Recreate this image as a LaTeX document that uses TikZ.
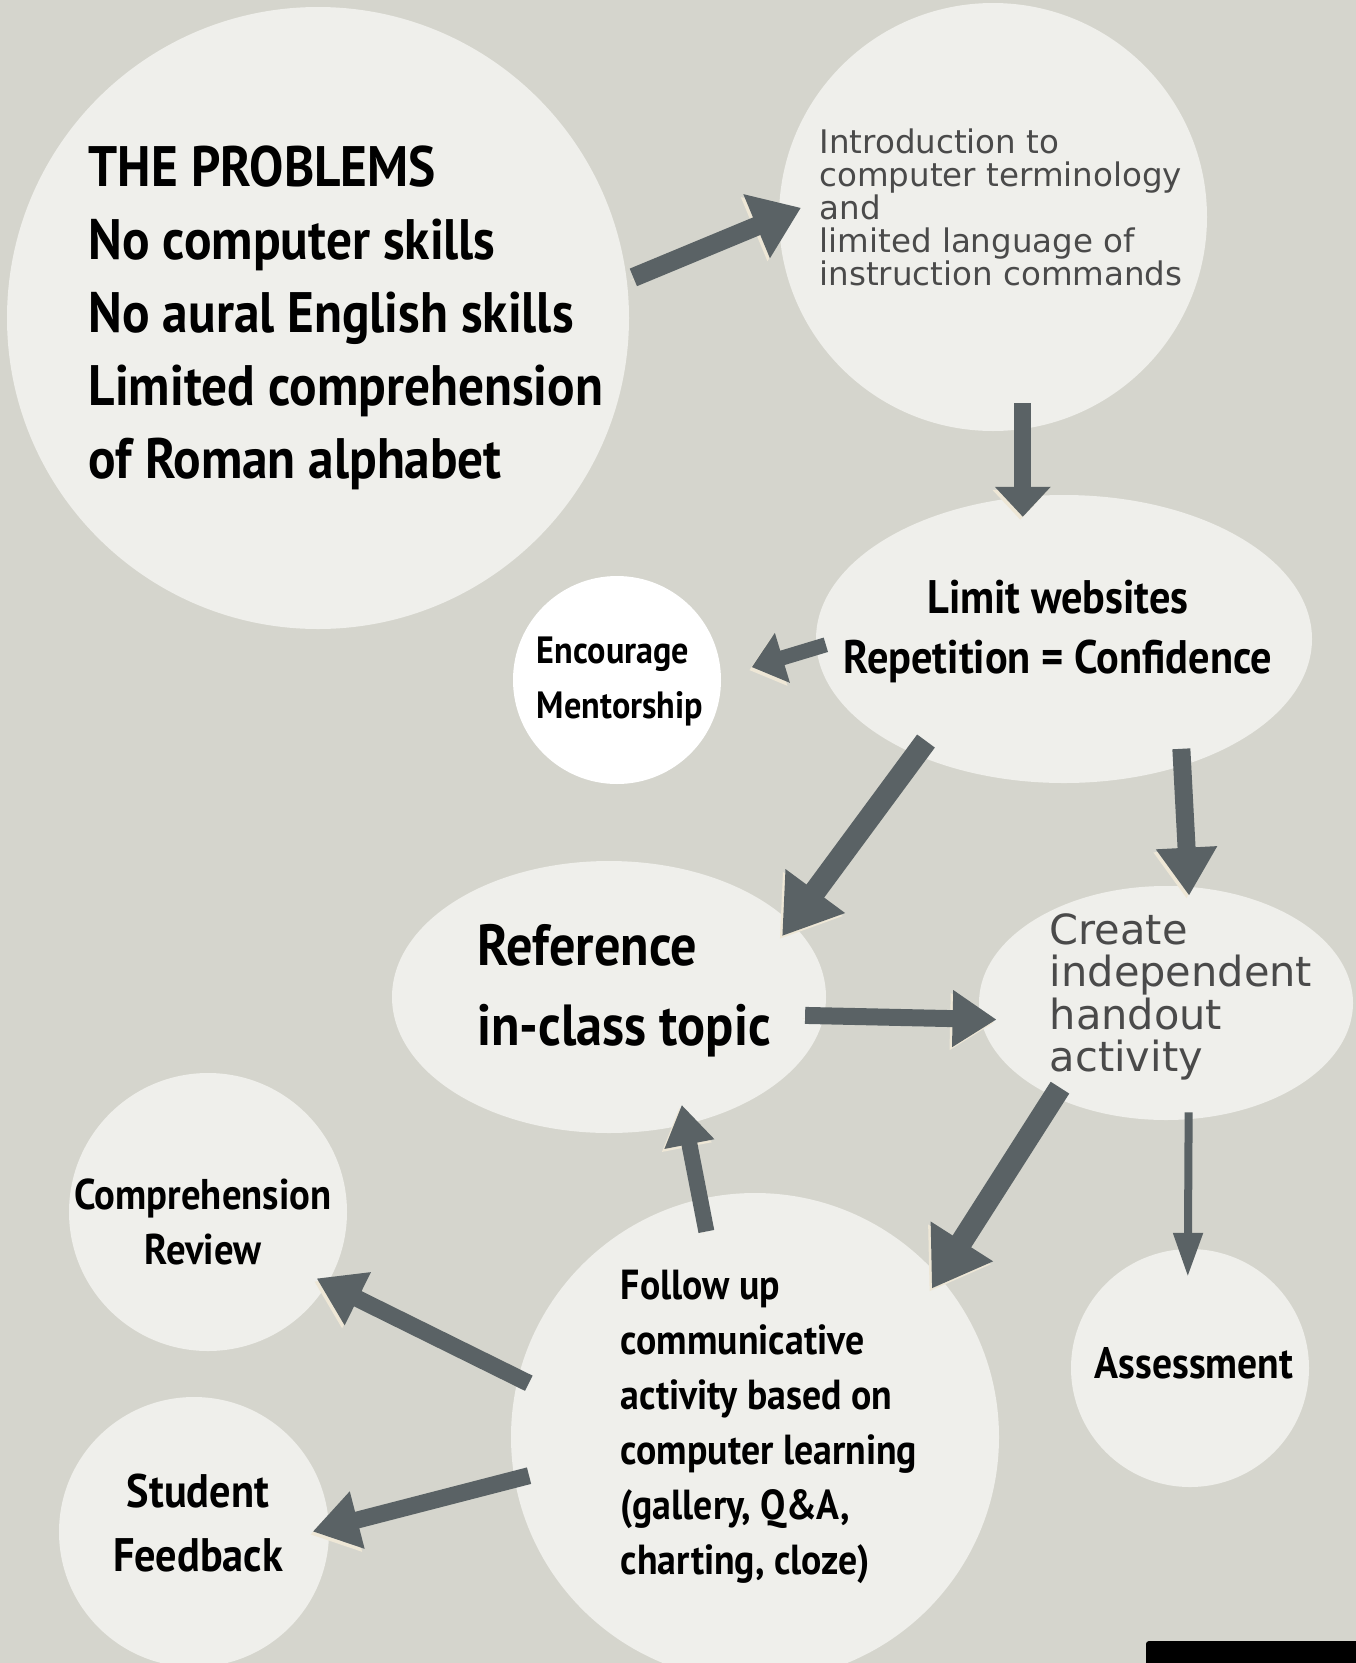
\documentclass[tikz,border=0pt]{standalone}
\usepackage{fontspec}
\usepackage{tikz}
\newfontfamily\headfont[FakeStretch=0.9]{PT Sans}
\newfontfamily\softfont{DejaVu Sans}
\newcommand\fsz[2]{\fontsize{#1}{#2}\selectfont}
\usetikzlibrary{arrows.meta,positioning,shapes.geometric}
\definecolor{paper}{HTML}{D5D5CD}
\definecolor{bubblefill}{HTML}{EFEFEB}
\definecolor{arrowgrey}{HTML}{5A6265}
\definecolor{arrowshade}{HTML}{EEE7D6}
\definecolor{softgrey}{HTML}{4A4A4A}
\tikzset{
	bubble/.style={circle, fill=bubblefill, inner sep=0},
	oval/.style={ellipse, fill=bubblefill, inner sep=0},
	headtext/.style 2 args={font=\headfont\bfseries\fsz{#1}{#2}, inner sep=0},
	softtext/.style 2 args={font=\softfont\fsz{#1}{#2}, text=softgrey, inner sep=0, align=left},
	flow/.style n args={3}{
		draw=arrowgrey, line width=#1,
		-{Triangle[width=#2,length=#3]},
		preaction={draw=arrowshade, transform canvas={xshift=-2.5pt,yshift=-3pt}},
	}
}

\begin{document}
\begin{tikzpicture}[x=1pt, y=-1pt]
	% Background
	\fill[paper] (0,0) rectangle (1356,1663);
	\clip (0,0) rectangle (1356,1663);
	% Bubbles
	\node[bubble, minimum size=622pt] (problems) at (318,318) {};
	\node[bubble, minimum size=428pt] (intro) at (993,217) {};
	\node[oval, minimum width=496pt, minimum height=288pt] (limit) at (1064,639) {};
	\node[bubble, fill=white, minimum size=208pt] (mentor) at (617,680) {};
	\node[oval, minimum width=434pt, minimum height=272pt] (reference) at (609,997) {};
	\node[oval, minimum width=374pt, minimum height=234pt] (create) at (1166,1003) {};
	\node[bubble, minimum size=278pt] (review) at (208,1212) {};
	\node[bubble, minimum size=488pt] (follow) at (755,1437) {};
	\node[bubble, minimum size=238pt] (assess) at (1190,1368) {};
	\node[bubble, minimum size=270pt] (feedback) at (194,1532) {};
	% Texts
	\node[headtext={57}{73}, align=left] (problemslist) at (346,318)
		{THE PROBLEMS\\No computer skills\\No aural English skills\\Limited comprehension\\of Roman alphabet};
	\node[softtext={32.5}{33}] (introlist) at (1001,207)
		{Introduction to\\computer terminology\\and\\limited language of\\instruction commands};
	\node[headtext={47}{60}, align=center] (limitlist) at (1058,631)
		{Limit websites\\Repetition = Confidence};
	\node[headtext={38}{55}, align=left] (mentorlist) at (620,681)
		{Encourage\\Mentorship};
	\node[headtext={58}{80}, align=left] (referencelist) at (624,991)
		{Reference\\in-class topic};
	\node[softtext={41.5}{42.5}] (createlist) at (1181,997)
		{Create\\independent\\handout\\activity};
	\node[headtext={43}{55}, align=center] (reviewlist) at (203,1222)
		{Comprehension\\Review};
	\node[headtext={42}{55}, align=left] (followlist) at (769,1427)
		{Follow up\\communicative\\activity based on\\computer learning\\(gallery, Q\&A,\\charting, cloze)};
	\node[headtext={44}{50}] (assesslist) at (1194,1363) {Assessment};
	\node[headtext={47}{64}, align=center] (feedbacklist) at (198,1523)
		{Student\\Feedback};
	% Arrows
	\draw[flow={19pt}{66pt}{48pt}, shorten <=7pt, shorten >=-24pt] (problems.7) -- (intro.180);
	\draw[flow={17pt}{54pt}{30pt}, shorten <=-26pt, shorten >=-22pt] (intro.278) -- (intro.278 |- limit.north);
	\draw[flow={15pt}{50pt}{32pt}, shorten <=-10pt, shorten >=32pt] (limit.182) -- (mentor.2.5);
	\draw[flow={22pt}{70pt}{56pt}, shorten <=-17pt, shorten >=-16pt] (limit.218) -- (reference.22);
	\draw[flow={18pt}{58pt}{48pt}, shorten <=-17pt, shorten >=-9pt] (limit.313) -- (create.79);
	\draw[flow={17pt}{54pt}{44pt}, shorten <=-19pt, shorten >=-16pt] (reference.-5) -- (create.185);
	\draw[flow={22pt}{70pt}{56pt}, shorten <=-11pt, shorten >=-14pt] (create.220) -- (follow.41);
	\draw[flow={8pt}{28pt}{44pt}, shorten <=-7pt, shorten >=-28pt] (create.-79) -- (assess.91);
	\draw[flow={16pt}{48pt}{40pt}, shorten <=-33pt, shorten >=-20pt] (follow.103) -- (reference.-59);
	\draw[flow={17pt}{56pt}{46pt}, shorten <=-12pt, shorten >=-12pt] (follow.166) -- (review.-31);
	\draw[flow={17pt}{56pt}{46pt}, shorten <=-15pt, shorten >=-17pt] (follow.190) -- (feedback.2);
	% Corner bar
	\fill[black, rounded corners=3pt] (1146,1641) rectangle (1370,1680);
\end{tikzpicture}
\end{document}
